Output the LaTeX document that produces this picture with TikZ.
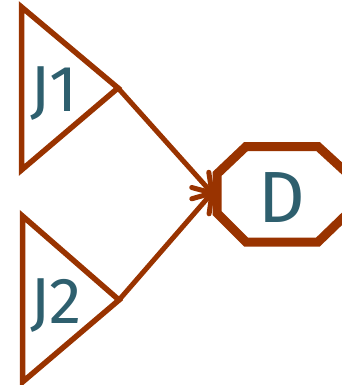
\documentclass[tikz,border=0pt]{standalone}
\usepackage{fontspec}
\setmainfont{Fira Sans}
\usetikzlibrary{calc}
\definecolor{edgec}{HTML}{993300}
\definecolor{textc}{HTML}{2E5F6E}
\tikzset{
  shapeline/.style={draw=edgec, line width=5.5pt, line join=miter},
  octline/.style={draw=edgec, line width=9pt, line join=miter},
  conn/.style={draw=edgec, line width=5pt, line cap=round},
  barb/.style={draw=edgec, line width=5pt, line cap=round, line join=round},
  lbl/.style={text=textc, inner sep=0pt, anchor=base, font=\fontsize{65}{65}\selectfont},
  lblD/.style={text=textc, inner sep=0pt, anchor=base, font=\fontsize{72.5}{72.5}\selectfont}
}
\begin{document}
\begin{tikzpicture}[x=1pt,y=1pt]
\useasboundingbox (0,-385) rectangle (341,0);
% triangles
\draw[shapeline] (21.5,-7) -- (118,-88) -- (21.5,-170) -- cycle;
\draw[shapeline] (22.5,-216) -- (119,-300) -- (22.5,-382) -- cycle;
\coordinate (t1) at (118,-88);
\coordinate (t2) at (119,-300);
% octagon
\draw[octline] (217,-174) -- (246,-146.5) -- (318,-146.5) -- (348,-174) -- (348,-213) -- (318,-242) -- (246,-242) -- (217,-213) -- cycle;
\coordinate (dw) at (212,-193);
\node[lbl] (j1) at (54,-112) {J1};
\node[lbl] (j2) at (56,-323) {J2};
\node[lblD] (d) at (282,-222) {D};
\draw[conn] (t1) -- (dw);
\draw[conn] (t2) -- (dw);
\draw[barb] ($(dw)!21pt!-33:(t1)$) -- (dw) -- ($(dw)!21pt!33:(t1)$);
\draw[barb] ($(dw)!21pt!-33:(t2)$) -- (dw) -- ($(dw)!21pt!33:(t2)$);
\end{tikzpicture}
\end{document}
